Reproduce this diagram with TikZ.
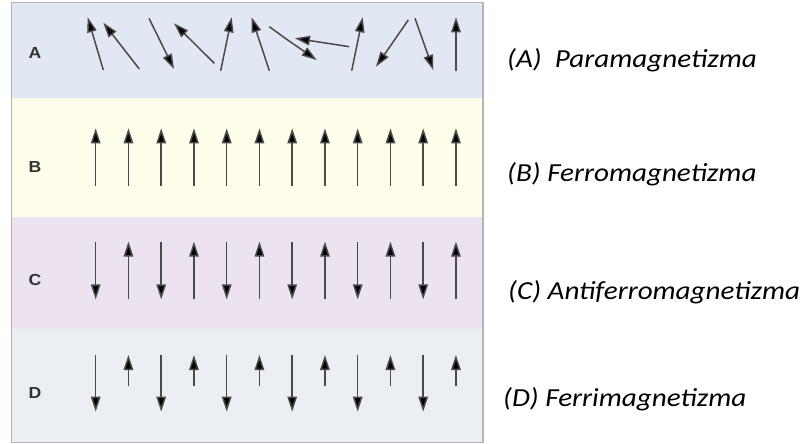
\documentclass[tikz,border=0pt]{standalone}
\usepackage{fontspec}
\setmainfont{Carlito}
\newfontfamily\lblfont{Liberation Sans}
\usetikzlibrary{arrows.meta}
\definecolor{bandA}{HTML}{E1E7F3}
\definecolor{bandB}{HTML}{FEFDEA}
\definecolor{bandC}{HTML}{EDE2F0}
\definecolor{bandD}{HTML}{EBEEF3}
\definecolor{frame}{HTML}{B4B4B4}
\definecolor{shaft}{HTML}{4A4A4A}
\tikzset{
  spin/.style={draw=shaft, line width=1.5pt, -{Triangle[length=15pt,width=9.5pt,fill=black]}},
  rowlbl/.style={font=\lblfont\bfseries\fontsize{16}{16}\selectfont, text=black!80, xscale=1.1, transform shape},
  caption/.style={font=\itshape\fontsize{26}{28}\selectfont, anchor=west, inner sep=0pt, text=black, xscale=1.12, transform shape}
}
\begin{document}
\begin{tikzpicture}[x=1pt,y=-1pt]
\useasboundingbox (0,0) rectangle (812,444);
\fill[white] (0,0) rectangle (812,444);
% bands
\fill[bandA] (11,3) rectangle (483,98);
\fill[bandB] (11,98) rectangle (483,217);
\fill[bandC] (11,217) rectangle (483,329);
\fill[bandD] (11,329) rectangle (483,442);
\draw[frame, line width=1pt] (483,442) -- (11,442) -- (11,3) -- (483,3);
\draw[frame, line width=2pt] (483,2) -- (483,443);
% row labels
\node[rowlbl] (la) at (35,53) {A};
\node[rowlbl] (lb) at (35,167) {B};
\node[rowlbl] (lc) at (35,280) {C};
\node[rowlbl] (ld) at (35,393) {D};
% A: paramagnetic
\draw[spin] (103.3,70) -- (87.7,17.3);
\draw[spin] (139.3,69) -- (103.3,22.7);
\draw[spin] (149,18.3) -- (174,69);
\draw[spin] (214.3,63.3) -- (174,23.3);
\draw[spin] (220.7,70.7) -- (231.7,17.3);
\draw[spin] (269.3,70.7) -- (251.7,17.3);
\draw[spin] (269.3,26.7) -- (286.7,39.3) -- (316.7,60);
\draw[spin] (349.3,46.7) -- (295,38.3);
\draw[spin] (351.7,70.7) -- (362.7,17.3);
\draw[spin] (408.3,20) -- (376,66.7);
\draw[spin] (415,18.3) -- (433.3,70);
\draw[spin] (456,70.7) -- (456,17.3);
% B: ferromagnetic
\foreach \i in {0,...,11}{
  \draw[spin] ({95.7+32.75*\i},186) -- ({95.7+32.75*\i},128.3);
}
% C: antiferromagnetic
\foreach \i in {0,2,...,10}{
  \draw[spin] ({95.7+32.75*\i},241.7) -- ({95.7+32.75*\i},299.3);
}
\foreach \i in {1,3,...,11}{
  \draw[spin] ({95.7+32.75*\i},299.3) -- ({95.7+32.75*\i},241.7);
}
% D: ferrimagnetic
\foreach \i in {0,2,...,10}{
  \draw[spin] ({95.7+32.75*\i},355) -- ({95.7+32.75*\i},411.7);
}
\foreach \i in {1,3,...,11}{
  \draw[spin] ({95.7+32.75*\i},386) -- ({95.7+32.75*\i},355);
}
% captions
\node[caption] (ca) at (507,60) {(A)\ \ Paramagnetizma};
\node[caption] (cb) at (507,174) {(B) Ferromagnetizma};
\node[caption] (cc) at (508,292) {(C) Antiferromagnetizma};
\node[caption] (cd) at (503,399) {(D) Ferrimagnetizma};
\end{tikzpicture}
\end{document}
